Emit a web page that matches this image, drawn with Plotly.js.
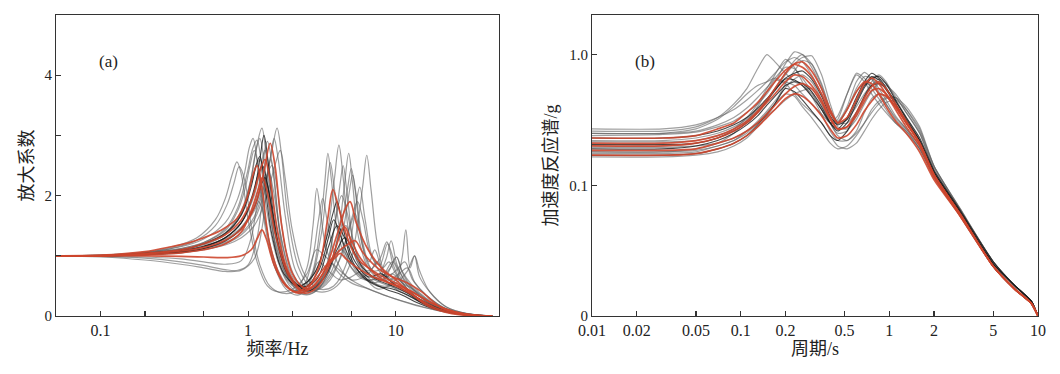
<!DOCTYPE html>
<html><head><meta charset="utf-8">
<script src="https://cdn.plot.ly/plotly-3.0.1.min.js"></script>
<style>html,body{margin:0;padding:0;background:#fff}</style>
</head><body><div id="chart" style="width:1060px;height:374px"></div>
<script>
// ---------- Panel (a): amplification factor vs frequency (Hz) ----------
const freqL1 = [0.05,0.1,0.2,0.3,0.45,0.6,0.7,0.78,0.84,0.9,1.0,1.15,1.35,1.6,2.0,2.5,2.9,3.3,4.0,5.0,7.0,10,15,22,32,45];
const ampL1  = [1.0,1.01,1.06,1.14,1.3,1.6,1.95,2.35,2.56,2.35,1.6,0.9,0.5,0.4,0.45,0.7,1.1,1.0,0.8,0.6,0.42,0.28,0.15,0.07,0.02,0.0];
const freqL2 = [0.05,0.1,0.2,0.3,0.45,0.6,0.72,0.8,0.87,0.95,1.05,1.2,1.4,1.7,2.1,2.5,2.75,2.92,3.1,3.4,4.0,5.0,6.5,9,13,20,30,45];
const ampL2  = [1.0,1.0,1.05,1.12,1.26,1.5,1.85,2.2,2.48,2.25,1.5,0.85,0.5,0.38,0.42,0.8,1.5,2.12,1.7,1.1,0.75,0.55,0.45,0.32,0.2,0.08,0.02,0.0];
const freqL3 = [0.05,0.1,0.2,0.35,0.5,0.7,0.9,1.05,1.15,1.24,1.32,1.45,1.7,2.1,2.5,3.0,3.5,3.85,4.12,4.4,4.8,5.5,6.5,7.8,8.7,9.6,11,14,20,30,45];
const ampL3  = [1.0,1.0,1.03,1.1,1.2,1.38,1.75,2.3,2.85,3.12,2.7,1.7,0.85,0.5,0.55,0.85,1.5,2.3,2.84,2.3,1.4,0.9,0.75,0.95,1.23,0.85,0.55,0.3,0.12,0.03,0.0];
const freqL4 = [0.05,0.1,0.2,0.35,0.5,0.7,0.9,1.1,1.3,1.45,1.57,1.68,1.85,2.2,2.7,3.3,4.0,4.8,5.5,6.0,6.36,6.8,7.5,8.5,10,11,11.7,12.5,13.4,14.5,17,22,30,45];
const ampL4  = [1.0,1.0,1.02,1.06,1.12,1.22,1.38,1.65,2.2,2.75,3.12,2.7,1.7,0.8,0.45,0.4,0.5,0.8,1.5,2.2,2.67,2.1,1.2,0.7,0.6,0.95,1.43,0.8,1.0,0.65,0.4,0.15,0.04,0.0];
const freqL5 = [0.05,0.1,0.2,0.35,0.5,0.7,0.85,0.98,1.08,1.15,1.22,1.35,1.6,1.9,2.3,2.7,3.05,3.3,3.47,3.65,4.0,4.6,5.5,6.5,8,9.2,10.1,11.2,13,17,25,40];
const ampL5  = [1.0,1.01,1.05,1.12,1.22,1.45,1.8,2.35,2.8,2.92,2.6,1.7,0.9,0.55,0.45,0.7,1.4,2.2,2.7,2.3,1.45,0.95,0.7,0.6,0.65,0.8,0.98,0.7,0.45,0.2,0.06,0.0];
const freqL6 = [0.05,0.1,0.2,0.35,0.5,0.7,0.9,1.1,1.22,1.3,1.4,1.55,1.8,2.2,2.8,3.5,4.1,4.5,4.8,5.1,5.6,6.5,8,9.5,11,13,16,22,32,45];
const ampL6  = [1.0,1.0,1.02,1.07,1.15,1.3,1.55,2.0,2.5,2.75,2.4,1.5,0.8,0.45,0.45,0.75,1.4,2.2,2.7,2.2,1.3,0.8,0.6,0.7,0.55,0.45,0.25,0.1,0.02,0.0];
const freqL7 = [0.05,0.1,0.2,0.35,0.5,0.7,0.9,1.05,1.2,1.32,1.5,1.8,2.3,2.9,3.6,4.3,4.8,5.1,5.4,6.0,7.0,8.2,9.0,10,12,15,20,30,45];
const ampL7  = [1.0,1.0,1.04,1.1,1.2,1.38,1.7,2.2,2.6,2.2,1.3,0.7,0.42,0.45,0.7,1.3,2.0,2.34,2.0,1.2,0.75,0.8,0.9,0.7,0.45,0.25,0.1,0.02,0.0];
const freqL8 = [0.05,0.1,0.2,0.35,0.5,0.7,0.9,1.1,1.3,1.5,1.65,1.78,2.0,2.4,3.0,3.8,4.6,5.2,5.7,6.2,7.0,8.5,10,11.5,13,16,22,32,45];
const ampL8  = [1.0,1.0,1.02,1.05,1.1,1.18,1.3,1.5,1.9,2.45,2.75,2.3,1.4,0.7,0.45,0.5,0.85,1.6,2.14,1.6,0.95,0.65,0.75,0.9,0.6,0.35,0.12,0.03,0.0];
const freqL9 = [0.05,0.1,0.2,0.35,0.5,0.7,0.9,1.05,1.17,1.25,1.35,1.55,1.9,2.4,3.0,3.5,3.8,4.2,5.0,6.5,8.5,11,14,18,25,35,45];
const ampL9  = [1.0,1.0,1.03,1.08,1.16,1.3,1.55,1.95,2.35,2.5,2.2,1.3,0.65,0.48,0.75,1.3,1.6,1.35,0.9,0.6,0.45,0.35,0.22,0.12,0.05,0.01,0.0];
const freqL10 = [0.05,0.1,0.2,0.35,0.5,0.7,0.9,1.1,1.22,1.3,1.4,1.6,2.0,2.6,3.3,4.0,4.5,5.0,6.0,7.5,9.5,12,15,20,28,40];
const ampL10  = [1.0,1.0,1.02,1.06,1.12,1.25,1.45,1.8,2.15,2.3,2.0,1.2,0.6,0.42,0.65,1.1,1.3,1.15,0.8,0.6,0.5,0.38,0.22,0.1,0.03,0.0];
const freqL11 = [0.05,0.1,0.2,0.35,0.5,0.7,0.85,1.0,1.15,1.25,1.33,1.42,1.6,2.0,2.5,3.0,3.6,4.2,4.6,5.0,6.0,7.5,9.0,10.5,12,15,20,30,45];
const ampL11  = [1.0,0.99,0.96,0.9,0.84,0.77,0.76,0.85,1.3,1.9,2.2,1.8,0.9,0.45,0.35,0.45,0.8,1.4,1.5,1.2,0.7,0.45,0.5,0.62,0.45,0.25,0.1,0.02,0.0];
const freqL12 = [0.05,0.1,0.2,0.35,0.5,0.7,0.9,1.1,1.25,1.35,1.42,1.5,1.65,1.9,2.3,2.8,3.4,3.9,4.3,4.8,5.6,7,8.5,10.1,11,13,16,22,32,45];
const ampL12  = [1.0,0.98,0.93,0.86,0.8,0.74,0.76,0.95,1.5,2.3,2.6,2.3,1.3,0.6,0.38,0.4,0.65,1.0,1.1,0.95,0.7,0.55,0.65,0.98,0.75,0.5,0.3,0.1,0.02,0.0];
const freqL13 = [0.05,0.1,0.2,0.35,0.5,0.7,0.9,1.05,1.13,1.2,1.28,1.45,1.75,2.2,2.8,3.4,3.8,4.0,4.3,4.9,6,7.5,9.5,12,15,20,28,40];
const ampL13  = [1.0,1.0,1.04,1.1,1.2,1.37,1.68,2.15,2.5,2.65,2.3,1.35,0.7,0.5,0.7,1.3,1.75,1.9,1.6,1.0,0.65,0.5,0.45,0.35,0.22,0.1,0.03,0.0];
const freqL14 = [0.05,0.1,0.2,0.35,0.5,0.7,0.9,1.1,1.3,1.45,1.58,1.8,2.2,2.8,3.6,4.5,5.0,5.3,5.7,6.5,8,9.5,11,13,16,22,32,45];
const ampL14  = [1.0,1.0,1.03,1.08,1.15,1.28,1.48,1.8,2.25,2.5,2.1,1.1,0.55,0.42,0.6,1.2,1.55,1.7,1.4,0.85,0.65,0.9,0.6,0.45,0.28,0.1,0.02,0.0];
const freqL15 = [0.05,0.1,0.2,0.35,0.5,0.7,0.85,0.95,1.02,1.08,1.15,1.3,1.55,1.9,2.3,2.7,3.0,3.2,3.45,4.0,5,6.5,7.5,8.5,10,13,18,26,40];
const ampL15  = [1.0,1.01,1.06,1.15,1.28,1.55,1.95,2.4,2.8,2.95,2.6,1.5,0.75,0.45,0.45,0.9,1.6,1.95,1.55,0.9,0.6,0.7,0.9,0.6,0.45,0.3,0.12,0.03,0.0];
const freqL16 = [0.05,0.1,0.2,0.35,0.5,0.7,0.9,1.1,1.25,1.35,1.45,1.65,2.0,2.5,3.1,3.8,4.2,4.4,4.65,5.2,6.2,8,10,12,13.4,14.5,17,22,32,45];
const ampL16  = [1.0,1.0,1.02,1.06,1.12,1.24,1.45,1.85,2.5,2.9,2.55,1.4,0.65,0.45,0.6,1.4,2.2,2.5,2.1,1.2,0.7,0.5,0.55,0.75,1.0,0.75,0.4,0.15,0.03,0.0];
const freqL17 = [0.05,0.1,0.2,0.35,0.5,0.7,0.9,1.03,1.12,1.2,1.28,1.42,1.7,2.1,2.6,3.1,3.4,3.6,3.8,4.2,5.0,6.2,7.5,8.6,9.3,10.2,12,15,20,30,45];
const ampL17  = [1.0,1.0,1.03,1.09,1.18,1.35,1.7,2.2,2.7,2.95,2.6,1.6,0.8,0.5,0.6,1.3,2.1,2.55,2.2,1.4,0.8,0.6,0.65,0.95,1.25,0.85,0.5,0.3,0.12,0.03,0.0];
const freqL18 = [0.05,0.1,0.2,0.35,0.5,0.7,0.85,0.95,1.03,1.1,1.18,1.32,1.6,2.0,2.6,3.4,4.2,4.7,5.0,5.3,5.9,6.6,7.2,8,9.5,11,14,19,28,45];
const ampL18  = [1.0,1.0,1.05,1.12,1.22,1.42,1.75,2.1,2.5,2.75,2.45,1.5,0.75,0.42,0.42,0.75,1.4,2.1,2.45,2.1,1.2,0.9,1.1,0.8,0.55,0.45,0.3,0.12,0.03,0.0];
const freqL19 = [0.05,0.1,0.2,0.35,0.5,0.7,0.9,1.1,1.3,1.42,1.5,1.6,1.8,2.1,2.6,3.3,3.9,4.3,4.7,5.5,7,9,10.5,12,13.5,16,22,32,45];
const ampL19  = [1.0,1.0,1.02,1.05,1.1,1.2,1.35,1.6,2.1,2.65,2.95,2.6,1.6,0.75,0.45,0.7,1.6,2.0,1.7,1.0,0.65,0.6,0.7,0.8,0.55,0.35,0.12,0.03,0.0];
const freqL20 = [0.05,0.1,0.2,0.35,0.5,0.7,0.9,1.08,1.2,1.28,1.36,1.5,1.8,2.3,2.9,3.5,4.0,4.5,5.3,6.5,8,9.5,12,16,22,32,45];
const ampL20  = [1.0,1.0,1.03,1.08,1.15,1.3,1.55,2.0,2.6,3.0,2.6,1.6,0.75,0.48,0.6,1.15,1.5,1.3,0.9,0.65,0.7,0.55,0.4,0.22,0.08,0.02,0.0];
const freqL21 = [0.05,0.1,0.2,0.35,0.5,0.7,0.9,1.05,1.18,1.3,1.5,1.8,2.2,2.6,3.0,3.5,4.2,5.0,6.0,7.2,9,11,14,18,25,35,45];
const ampL21  = [1.0,1.0,0.98,0.95,0.9,0.86,0.92,1.3,1.9,1.6,0.85,0.45,0.35,0.55,0.9,0.75,0.6,0.65,0.75,0.6,0.5,0.42,0.3,0.18,0.06,0.01,0.0];
const freqL22 = [0.05,0.1,0.2,0.35,0.5,0.7,0.9,1.1,1.28,1.38,1.48,1.7,2.0,2.5,3.2,4.2,5.0,5.5,6.0,6.8,7.8,8.8,9.8,11.5,14,18,25,35,45];
const ampL22  = [1.0,1.0,1.02,1.06,1.12,1.25,1.45,1.75,2.15,2.4,2.1,1.2,0.6,0.4,0.5,0.95,1.6,1.9,1.6,1.0,0.85,1.2,0.9,0.6,0.4,0.2,0.06,0.01,0.0];
// red records
const freqR1 = [0.05,0.1,0.2,0.35,0.5,0.7,0.9,1.1,1.28,1.41,1.52,1.7,2.0,2.5,3.2,4.0,4.5,4.9,5.4,6.5,8,10,13,17,24,35,45];
const ampR1  = [1.0,1.0,1.03,1.08,1.14,1.26,1.45,1.8,2.4,2.87,2.5,1.45,0.7,0.45,0.7,1.35,1.75,1.9,1.55,1.1,0.8,0.6,0.35,0.15,0.04,0.0,0.0];
const freqR2 = [0.05,0.1,0.2,0.35,0.5,0.7,0.9,1.08,1.2,1.3,1.4,1.6,1.9,2.4,3.0,3.45,3.75,4.1,4.7,5.5,7,9,11,14,18,25,35,45];
const ampR2  = [1.0,1.0,1.04,1.1,1.2,1.35,1.6,2.0,2.4,2.6,2.3,1.35,0.7,0.42,0.8,1.6,2.1,1.8,1.3,0.95,0.75,0.6,0.5,0.35,0.2,0.07,0.01,0.0];
const freqR3 = [0.05,0.1,0.2,0.35,0.5,0.7,0.9,1.05,1.17,1.25,1.35,1.55,1.9,2.4,3.0,3.7,4.2,4.5,4.9,5.8,7.2,9,11,14,18,25,35,45];
const ampR3  = [1.0,1.0,1.02,1.05,1.1,1.2,1.4,1.75,2.1,2.3,2.05,1.3,0.65,0.38,0.5,0.95,1.35,1.48,1.3,0.95,0.7,0.55,0.48,0.35,0.2,0.07,0.01,0.0];
const freqR4 = [0.05,0.1,0.2,0.35,0.5,0.7,0.9,1.05,1.16,1.24,1.32,1.5,1.8,2.2,2.8,3.5,4.0,4.2,4.6,5.5,7,9,11,14,18,25,35,45];
const ampR4  = [1.0,1.0,1.0,0.99,0.98,0.97,1.0,1.1,1.3,1.43,1.3,0.85,0.5,0.38,0.5,0.85,1.0,1.04,0.95,0.8,0.65,0.55,0.45,0.3,0.15,0.05,0.01,0.0];
const freqR5 = [0.05,0.1,0.2,0.3,0.4,0.5,0.65,0.84,0.98,1.08,1.15,1.23,1.4,1.7,2.1,2.7,3.4,4.2,4.8,5.3,6,7.5,9.5,12,15,20,28,40];
const ampR5  = [1.0,1.01,1.07,1.15,1.22,1.3,1.42,1.62,1.95,2.35,2.5,2.2,1.2,0.6,0.4,0.55,0.85,1.1,1.2,1.25,1.05,0.8,0.65,0.55,0.4,0.15,0.03,0.0];

// ---------- Panel (b): acceleration response spectra (g) vs period (s) ----------
const periodB = [0.01,0.03,0.05,0.07,0.09,0.11,0.13,0.15,0.17,0.2,0.23,0.26,0.3,0.35,0.4,0.45,0.52,0.6,0.68,0.76,0.85,0.95,1.1,1.3,1.6,2,3,5,7,9,10];
const saB1  = [0.26,0.26,0.28,0.33,0.42,0.55,0.78,1.0,0.88,0.72,0.62,0.58,0.5,0.38,0.3,0.34,0.5,0.70,0.62,0.5,0.42,0.36,0.3,0.26,0.19,0.12,0.06,0.025,0.017,0.013,0.01];
const saB2  = [0.24,0.245,0.255,0.28,0.31,0.36,0.42,0.5,0.62,0.85,1.05,1.0,0.8,0.55,0.36,0.3,0.38,0.52,0.6,0.58,0.5,0.42,0.33,0.27,0.2,0.125,0.062,0.025,0.017,0.013,0.01];
const saB3  = [0.22,0.22,0.23,0.25,0.28,0.32,0.38,0.45,0.55,0.7,0.85,0.95,0.98,0.7,0.42,0.3,0.32,0.4,0.5,0.58,0.62,0.55,0.42,0.3,0.21,0.12,0.06,0.024,0.016,0.0125,0.01];
const saB4  = [0.18,0.18,0.185,0.2,0.22,0.25,0.3,0.36,0.42,0.5,0.48,0.4,0.33,0.26,0.21,0.19,0.2,0.24,0.3,0.38,0.44,0.47,0.47,0.36,0.25,0.13,0.064,0.026,0.017,0.013,0.01];
const saB12 = [0.25,0.25,0.27,0.32,0.4,0.5,0.58,0.62,0.66,0.62,0.58,0.5,0.42,0.35,0.3,0.3,0.38,0.55,0.68,0.66,0.55,0.45,0.34,0.27,0.2,0.12,0.06,0.024,0.016,0.0125,0.01];
const saB13 = [0.165,0.165,0.17,0.18,0.2,0.23,0.28,0.34,0.42,0.6,0.75,0.9,0.85,0.6,0.38,0.28,0.27,0.32,0.42,0.52,0.6,0.58,0.5,0.38,0.26,0.14,0.065,0.026,0.017,0.013,0.01];
const saB14 = [0.2,0.2,0.21,0.23,0.27,0.33,0.42,0.55,0.7,0.92,0.8,0.62,0.48,0.35,0.26,0.22,0.22,0.25,0.3,0.36,0.42,0.46,0.47,0.4,0.28,0.14,0.066,0.026,0.017,0.013,0.01];
const saB15 = [0.27,0.27,0.29,0.33,0.38,0.45,0.53,0.62,0.72,0.88,0.95,0.88,0.7,0.5,0.36,0.31,0.4,0.62,0.73,0.65,0.52,0.42,0.32,0.26,0.19,0.115,0.058,0.024,0.016,0.0125,0.01];
const saB16 = [0.175,0.175,0.18,0.2,0.22,0.26,0.31,0.37,0.44,0.56,0.65,0.7,0.62,0.45,0.3,0.25,0.26,0.34,0.48,0.62,0.7,0.62,0.46,0.33,0.22,0.125,0.062,0.025,0.017,0.013,0.01];
const saB17 = [0.195,0.195,0.2,0.21,0.23,0.26,0.3,0.34,0.38,0.45,0.5,0.53,0.55,0.42,0.3,0.24,0.22,0.26,0.36,0.46,0.5,0.48,0.4,0.3,0.21,0.12,0.06,0.024,0.016,0.0125,0.01];
const saB19 = [0.25,0.25,0.26,0.29,0.33,0.39,0.47,0.56,0.66,0.8,0.78,0.66,0.52,0.38,0.3,0.32,0.5,0.72,0.66,0.55,0.46,0.38,0.3,0.25,0.19,0.115,0.058,0.024,0.016,0.0125,0.01];
const saB20 = [0.215,0.215,0.22,0.24,0.27,0.31,0.37,0.45,0.55,0.72,0.9,1.0,0.85,0.58,0.38,0.3,0.3,0.36,0.46,0.58,0.65,0.6,0.48,0.36,0.25,0.135,0.064,0.026,0.017,0.013,0.01];
const saB22 = [0.18,0.18,0.19,0.21,0.25,0.31,0.4,0.52,0.64,0.6,0.5,0.42,0.36,0.3,0.24,0.2,0.19,0.21,0.26,0.32,0.38,0.43,0.45,0.38,0.27,0.14,0.066,0.026,0.017,0.013,0.01];
const saB10 = [0.19,0.19,0.2,0.22,0.25,0.29,0.34,0.41,0.48,0.58,0.62,0.6,0.52,0.4,0.3,0.26,0.3,0.42,0.56,0.66,0.68,0.6,0.45,0.32,0.22,0.125,0.062,0.025,0.017,0.013,0.01];
const saB11 = [0.17,0.17,0.175,0.19,0.21,0.24,0.29,0.35,0.42,0.55,0.52,0.45,0.37,0.3,0.24,0.22,0.26,0.36,0.48,0.58,0.6,0.55,0.44,0.33,0.23,0.13,0.064,0.026,0.017,0.013,0.01];
const saB18 = [0.23,0.23,0.24,0.26,0.29,0.33,0.39,0.46,0.54,0.66,0.72,0.75,0.65,0.48,0.34,0.29,0.32,0.44,0.58,0.68,0.64,0.54,0.42,0.3,0.21,0.12,0.06,0.024,0.016,0.0125,0.01];
const saB21 = [0.205,0.205,0.21,0.23,0.26,0.3,0.36,0.44,0.53,0.65,0.64,0.58,0.48,0.38,0.3,0.27,0.33,0.47,0.62,0.72,0.66,0.56,0.42,0.31,0.22,0.125,0.062,0.025,0.017,0.013,0.01];
// red records
const saB5  = [0.23,0.23,0.24,0.27,0.3,0.36,0.43,0.52,0.62,0.76,0.84,0.8,0.68,0.5,0.36,0.3,0.38,0.52,0.62,0.6,0.5,0.4,0.31,0.25,0.18,0.11,0.058,0.024,0.016,0.0125,0.01];
const saB6  = [0.2,0.2,0.21,0.23,0.26,0.3,0.36,0.43,0.5,0.62,0.7,0.68,0.58,0.45,0.33,0.27,0.28,0.36,0.47,0.57,0.62,0.55,0.42,0.31,0.21,0.12,0.06,0.024,0.016,0.0125,0.01];
const saB7  = [0.185,0.185,0.19,0.21,0.23,0.26,0.3,0.35,0.41,0.5,0.57,0.6,0.55,0.43,0.32,0.27,0.28,0.34,0.44,0.53,0.55,0.5,0.4,0.3,0.21,0.12,0.06,0.024,0.016,0.0125,0.01];
const saB8  = [0.21,0.21,0.22,0.24,0.27,0.31,0.37,0.45,0.55,0.72,0.85,0.88,0.75,0.55,0.38,0.3,0.33,0.45,0.6,0.66,0.6,0.5,0.38,0.28,0.2,0.115,0.058,0.024,0.016,0.0125,0.01];
const saB9  = [0.17,0.17,0.175,0.19,0.21,0.24,0.28,0.33,0.38,0.46,0.5,0.48,0.42,0.34,0.27,0.23,0.24,0.29,0.37,0.44,0.5,0.48,0.4,0.3,0.21,0.12,0.06,0.024,0.016,0.0125,0.01];

// axis ticks
const tickFreq = [0.1,0.2,0.5,1,2,5,10];
const tickFreqText = ['0.1','','','1','','','10'];
const tickAmp = [0,1,2,3,4];
const tickAmpText = ['0','','2','','4'];
const tickPeriod = [0.01,0.02,0.05,0.1,0.2,0.5,1,2,5,10];
const tickPeriodText = ['0.01','0.02','0.05','0.1','0.2','0.5','1','2','5','10'];
const tickSa = [0.01,0.1,1];
const tickSaText = ['0','0.1','1.0'];

const GRAY = 'rgba(95,95,95,0.6)';
const BLACK = 'rgba(25,25,25,0.8)';
const RED = 'rgba(205,70,45,0.9)';

const traces = [];
function add(x, y, color, width, xa, ya, smooth) {
  traces.push({x: x, y: y, xaxis: xa, yaxis: ya, type: 'scatter', mode: 'lines',
    line: {color: color, width: width, shape: 'spline', smoothing: smooth},
    hoverinfo: 'skip', showlegend: false});
}
// panel a
[[freqL1,ampL1],[freqL2,ampL2],[freqL3,ampL3],[freqL4,ampL4],[freqL5,ampL5],[freqL6,ampL6],
 [freqL7,ampL7],[freqL8,ampL8],[freqL11,ampL11],[freqL12,ampL12],[freqL14,ampL14],[freqL15,ampL15],
 [freqL16,ampL16],[freqL17,ampL17],[freqL18,ampL18],[freqL19,ampL19],[freqL21,ampL21],[freqL22,ampL22]]
 .forEach(p => add(p[0], p[1], GRAY, 1.2, 'x', 'y', 1));
[[freqL9,ampL9],[freqL10,ampL10],[freqL13,ampL13],[freqL20,ampL20]].forEach(p => add(p[0], p[1], BLACK, 1.1, 'x', 'y', 1));
[[freqR1,ampR1],[freqR2,ampR2],[freqR3,ampR3],[freqR4,ampR4],[freqR5,ampR5]].forEach(p => add(p[0], p[1], RED, 1.7, 'x', 'y', 1));
// panel b
[saB1,saB2,saB3,saB4,saB12,saB13,saB14,saB15,saB16,saB17,saB19,saB20,saB22].forEach(s => add(periodB, s, GRAY, 1.2, 'x2', 'y2', 0.6));
[saB10,saB11,saB18,saB21].forEach(s => add(periodB, s, BLACK, 1.1, 'x2', 'y2', 0.6));
[saB5,saB6,saB7,saB8,saB9].forEach(s => add(periodB, s, RED, 1.7, 'x2', 'y2', 0.6));

const SERIF = 'Liberation Serif, Times New Roman, Noto Sans CJK SC, serif';
const axisCommon = {showline: true, mirror: true, linecolor: '#333', linewidth: 1, ticks: 'inside',
  ticklen: 5, tickcolor: '#333', tickwidth: 1.2, showgrid: false, zeroline: false,
  tickfont: {family: SERIF, size: 16, color: '#222'}};

const layout = {
  width: 1060, height: 374, margin: {l: 0, r: 0, t: 15, b: 58},
  paper_bgcolor: '#fff', plot_bgcolor: '#fff',
  font: {family: SERIF, color: '#222'},
  xaxis: Object.assign({}, axisCommon, {domain: [56/1060, 499/1060], type: 'log',
    range: [Math.log10(0.05), Math.log10(50)], tickmode: 'array', tickvals: tickFreq, ticktext: tickFreqText,
    title: {text: '频率/Hz', font: {family: SERIF, size: 18, color: '#222'}, standoff: 4}}),
  yaxis: Object.assign({}, axisCommon, {domain: [0, 1], range: [0, 5], tickmode: 'array',
    tickvals: tickAmp, ticktext: tickAmpText, tickfont: {family: SERIF, size: 15, color: '#222'},
    title: {text: '放大系数', font: {family: SERIF, size: 18, color: '#222'}, standoff: 6}}),
  xaxis2: Object.assign({}, axisCommon, {domain: [592/1060, 1038/1060], type: 'log', anchor: 'y2',
    range: [-2, 1], tickmode: 'array', tickvals: tickPeriod, ticktext: tickPeriodText,
    title: {text: '周期/s', font: {family: SERIF, size: 18, color: '#222'}, standoff: 4}}),
  yaxis2: Object.assign({}, axisCommon, {domain: [0, 1], anchor: 'x2', type: 'log', range: [-2, 0.303],
    tickmode: 'array', tickvals: tickSa, ticktext: tickSaText, tickfont: {family: SERIF, size: 15, color: '#222'},
    title: {text: '加速度反应谱/g', font: {family: SERIF, size: 18, color: '#222'}, standoff: 6}}),
  annotations: [
    {text: '(a)', xref: 'paper', yref: 'paper', x: 97/1060, y: (316-50)/301, showarrow: false,
     font: {family: SERIF, size: 17, color: '#222'}},
    {text: '(b)', xref: 'paper', yref: 'paper', x: 645/1060, y: (316-50)/301, showarrow: false,
     font: {family: SERIF, size: 17, color: '#222'}}
  ]
};
Plotly.newPlot('chart', traces, layout, {displayModeBar: false, staticPlot: true});
</script></body></html>
